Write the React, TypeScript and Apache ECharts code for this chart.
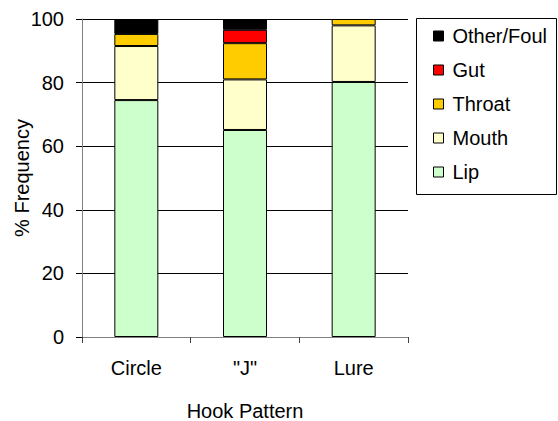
import React, { useEffect, useRef } from "react";
import * as echarts from "echarts";

const categories = ["Circle", "\"J\"", "Lure"];
const lip = [74.5, 65.1, 80.2];
const mouth = [17.0, 15.9, 17.8];
const throat = [3.8, 11.4, 2.0];
const gut = [0, 4.2, 0];
const other = [4.7, 3.4, 0];
const seriesNames = ["Lip", "Mouth", "Throat", "Gut", "Other/Foul"];
const seriesColors = ["#CCFFCC", "#FFFFCC", "#FFCC00", "#FF0000", "#000000"];
const yTicks = { min: 0, max: 100, interval: 20 };

const FONT = "'Liberation Sans', Arial, sans-serif";

export default function App() {
  const ref = useRef<HTMLDivElement>(null);
  useEffect(() => {
    if (!ref.current) return;
    const chart = echarts.init(ref.current, undefined, { renderer: "svg" });
    const values = [lip, mouth, throat, gut, other];
    chart.setOption({
      animation: false,
      backgroundColor: "#ffffff",
      textStyle: { fontFamily: FONT },
      grid: { left: 82, right: 150, top: 19, bottom: 84, containLabel: false, outerBoundsMode: "none" },
      graphic: [
        {
          type: "rect",
          shape: { x: 416.5, y: 18.5, width: 140, height: 176 },
          style: { fill: "#ffffff", stroke: "#000000", lineWidth: 1 },
          z: 0,
        },
      ],
      legend: {
        orient: "vertical",
        left: 433,
        top: 26,
        padding: 0,
        itemWidth: 10,
        itemHeight: 10,
        itemGap: 14,
        icon: "rect",
        data: [...seriesNames].reverse(),
        itemStyle: { borderColor: "#000", borderWidth: 1 },
        textStyle: { fontFamily: FONT, fontSize: 20, color: "#000", padding: [0, 0, 0, 4] },
        z: 5,
      },
      xAxis: {
        type: "category",
        data: categories,
        name: "Hook Pattern",
        nameLocation: "middle",
        nameGap: 64,
        nameMoveOverlap: false,
        nameTextStyle: { fontFamily: FONT, fontSize: 20, color: "#000" },
        axisLine: { lineStyle: { color: "#808080", width: 1 } },
        axisTick: { show: true, length: 6, lineStyle: { color: "#404040" } },
        axisLabel: { fontFamily: FONT, fontSize: 20, color: "#000", margin: 21 },
      },
      yAxis: {
        type: "value",
        min: yTicks.min,
        max: yTicks.max,
        interval: yTicks.interval,
        name: "% Frequency",
        nameLocation: "middle",
        nameGap: 50,
        nameMoveOverlap: false,
        nameTextStyle: { fontFamily: FONT, fontSize: 20, color: "#000" },
        axisLine: { show: true, lineStyle: { color: "#808080", width: 1 } },
        axisTick: { show: true, length: 6, lineStyle: { color: "#000" } },
        axisLabel: { fontFamily: FONT, fontSize: 20, color: "#000", margin: 18 },
        splitLine: { show: true, lineStyle: { color: "#000", width: 1 } },
      },
      series: seriesNames.map((name, i) => ({
        name,
        type: "bar",
        stack: "total",
        barWidth: 44,
        data: values[i].map((v) => (v === 0 ? "-" : v)),
        itemStyle: { color: seriesColors[i], borderColor: "#000", borderWidth: 1 },
      })),
    });
    return () => chart.dispose();
  }, []);
  return (
    <div
      ref={ref}
      style={{ position: "absolute", left: 0, top: 0, width: 558, height: 421 }}
    />
  );
}
